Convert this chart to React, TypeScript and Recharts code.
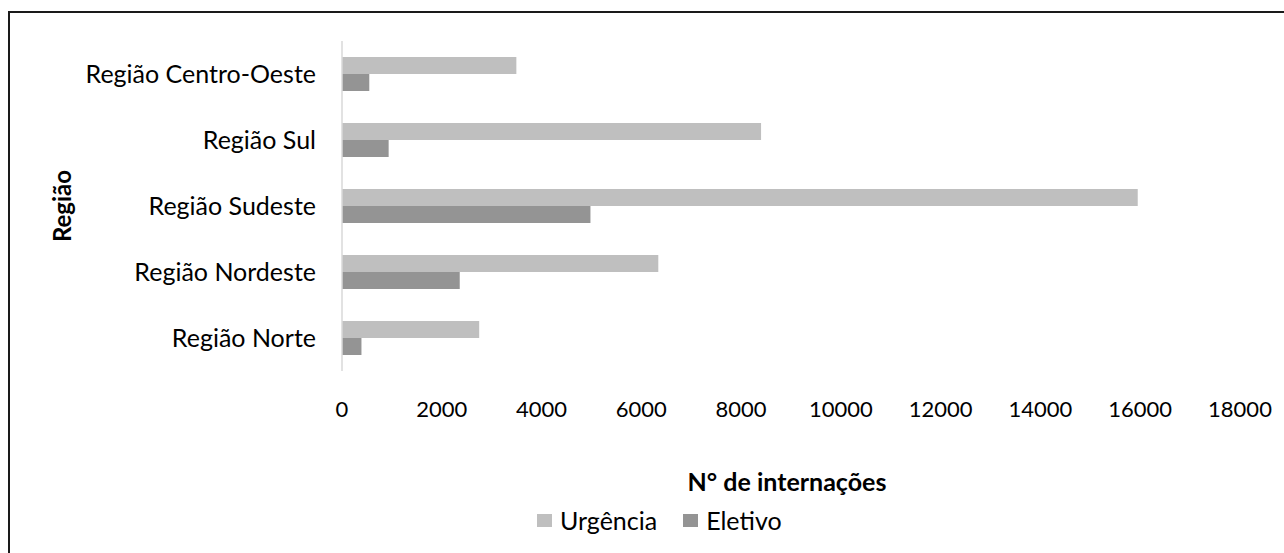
import React from 'react';
import { BarChart, Bar, XAxis, YAxis, Legend } from 'recharts';

const categories = ['Região Centro-Oeste', 'Região Sul', 'Região Sudeste', 'Região Nordeste', 'Região Norte'];
const urgencia = [3495, 8400, 15950, 6340, 2750];
const eletivo = [547, 935, 4980, 2360, 390];
const xTicks = [0, 2000, 4000, 6000, 8000, 10000, 12000, 14000, 16000, 18000];
const seriesOrder = ['Urgência', 'Eletivo'];

const data = categories.map((regiao, i) => ({ regiao, 'Urgência': urgencia[i], Eletivo: eletivo[i] }));

const FONT = 'Lato, "Open Sans", sans-serif';

const renderLegend = (props: any) => {
  const payload = [...(props.payload || [])].sort(
    (a: any, b: any) => seriesOrder.indexOf(a.value) - seriesOrder.indexOf(b.value)
  );
  return (
    <div style={{ display: 'flex', alignItems: 'center', fontFamily: FONT, fontSize: 25, color: '#000' }}>
      {payload.map((entry: any, i: number) => (
        <div key={i} style={{ display: 'flex', alignItems: 'center', marginRight: 26 }}>
          <div style={{ width: 15, height: 13, background: entry.color, marginRight: 8 }} />
          <span style={{ lineHeight: '26px' }}>{entry.value}</span>
        </div>
      ))}
    </div>
  );
};

export default function App() {
  return (
    <div style={{ position: 'absolute', left: 0, top: 0, width: 1284, height: 553, overflow: 'hidden', background: '#fff' }}>
      <div style={{ position: 'absolute', left: 8, top: 11, width: 1300, height: 600, border: '2px solid #1a1a1a', boxSizing: 'border-box' }} />
      <div style={{ position: 'absolute', left: 0, top: 0 }}>
        <BarChart
          width={1284}
          height={553}
          data={data}
          layout="vertical"
          margin={{ top: 41, right: 44, bottom: 122, left: 62 }}
          barGap={0}
          style={{ fontFamily: FONT }}
        >
          <XAxis
            type="number"
            domain={[0, 18000]}
            ticks={xTicks}
            interval={0}
            axisLine={false}
            tickLine={false}
            tickSize={0}
            tickMargin={30}
            height={60}
            tick={{ fill: '#000', fontSize: 22, fontFamily: FONT }}
            label={{ value: 'N° de internações', position: 'insideTop', offset: 102, dx: -4, fill: '#000', fontSize: 25, fontWeight: 700, fontFamily: FONT }}
          />
          <YAxis
            type="category"
            dataKey="regiao"
            width={280}
            axisLine={{ stroke: '#d9d9d9', strokeWidth: 1.5 }}
            tickLine={false}
            tickSize={0}
            tickMargin={26}
            interval={0}
            tick={{ fill: '#000', fontSize: 25, fontFamily: FONT }}
            label={{ value: 'Região', angle: -90, position: 'center', dx: -140, fill: '#000', fontSize: 24, fontWeight: 700, fontFamily: FONT }}
          />
          <Legend
            content={renderLegend}
            layout="horizontal"
            verticalAlign="middle"
            align="center"
            wrapperStyle={{ position: 'absolute', left: 537, top: 507, width: 500 }}
          />
          <Bar dataKey="Urgência" fill="#bfbfbf" barSize={17} isAnimationActive={false} />
          <Bar dataKey="Eletivo" fill="#949494" barSize={17} isAnimationActive={false} />
        </BarChart>
      </div>
    </div>
  );
}
